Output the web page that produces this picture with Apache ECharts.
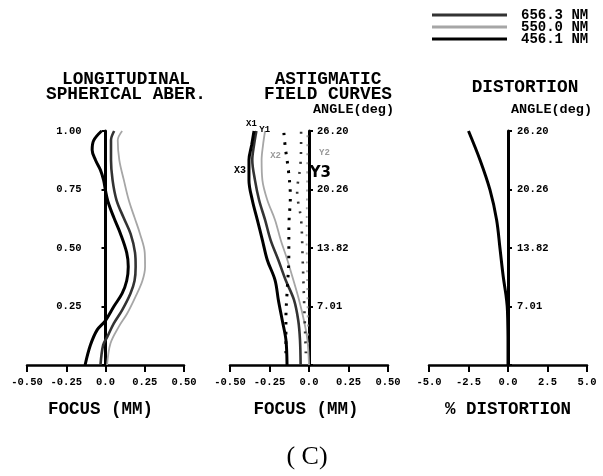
<!DOCTYPE html>
<html>
<head>
<meta charset="utf-8">
<script src="https://cdn.jsdelivr.net/npm/echarts@6/dist/echarts.min.js"></script>
<style>
  html, body { margin: 0; padding: 0; background: #fff; }
  #chart { width: 603px; height: 476px; }
</style>
</head>
<body>
<div id="chart"></div>
<script>
// ---- tick labels ----
const focusTicks = ['-0.50', '-0.25', '0.0', '0.25', '0.50'];
const distTicks = ['-5.0', '-2.5', '0.0', '2.5', '5.0'];
const pupilTicks = ['', '0.25', '0.50', '0.75', '1.00'];
const angleTicks = ['', '7.01', '13.82', '20.26', '26.20'];

// ---- wavelengths ----
const waves = ['656.3 NM', '550.0 NM', '456.1 NM'];

// ---- longitudinal spherical aberration: [focus mm, pupil fraction] ----
const lsa656 = [[-0.032,0],[-0.015,0.085],[0.011,0.12],[0.053,0.178],[0.106,0.235],[0.159,0.306],[0.185,0.36],[0.192,0.42],[0.188,0.48],[0.16,0.56],[0.115,0.63],[0.07,0.705],[0.045,0.79],[0.035,0.876],[0.035,0.96],[0.055,1.0]];
const lsa550 = [[0.01,0],[0.032,0.093],[0.085,0.164],[0.138,0.22],[0.19,0.29],[0.235,0.36],[0.252,0.42],[0.25,0.48],[0.22,0.56],[0.185,0.63],[0.148,0.705],[0.117,0.79],[0.088,0.876],[0.078,0.96],[0.106,1.0]];
const lsa456 = [[-0.13,0],[-0.096,0.085],[-0.053,0.15],[0,0.19],[0.053,0.25],[0.106,0.306],[0.135,0.36],[0.145,0.42],[0.135,0.48],[0.096,0.56],[0.053,0.63],[0.015,0.70],[0,0.745],[-0.012,0.79],[-0.032,0.833],[-0.064,0.876],[-0.085,0.919],[-0.075,0.96],[-0.025,1.0]];

// ---- astigmatic field curves: [focus mm, field fraction] ----
// sagittal (X)
const sag656 = [[-0.053,0],[-0.057,0.107],[-0.068,0.19],[-0.095,0.278],[-0.148,0.363],[-0.194,0.449],[-0.243,0.534],[-0.278,0.62],[-0.316,0.705],[-0.342,0.79],[-0.359,0.876],[-0.348,0.94],[-0.333,1.0]];
const sag550 = [[0,0],[-0.01,0.107],[-0.032,0.19],[-0.063,0.278],[-0.099,0.363],[-0.137,0.449],[-0.179,0.534],[-0.215,0.62],[-0.264,0.705],[-0.295,0.79],[-0.3,0.876],[-0.291,0.94],[-0.278,1.0]];
const sag456 = [[-0.139,0],[-0.146,0.107],[-0.169,0.19],[-0.194,0.278],[-0.215,0.363],[-0.264,0.449],[-0.295,0.534],[-0.327,0.62],[-0.359,0.705],[-0.38,0.79],[-0.38,0.876],[-0.363,0.94],[-0.348,1.0]];
// tangential (Y)
const tan656 = [[-0.02,0.05],[-0.03,0.25],[-0.04,0.45],[-0.05,0.62],[-0.075,0.74],[-0.055,0.85],[-0.05,0.95],[-0.05,1.0]];
const tan550 = [[-0.005,0.05],[-0.01,0.3],[-0.015,0.55],[-0.012,0.8],[-0.01,1.0]];
const tan456 = [[-0.146,0.05],[-0.146,0.2],[-0.138,0.32],[-0.128,0.45],[-0.127,0.6],[-0.118,0.72],[-0.13,0.83],[-0.15,0.93],[-0.16,1.0]];

// ---- distortion: [% distortion, field fraction] ----
const distortion = [[0,0],[0,0.1],[-0.02,0.2],[-0.05,0.25],[-0.13,0.3],[-0.3,0.377],[-0.51,0.5],[-0.72,0.62],[-1.14,0.748],[-1.77,0.876],[-2.5,1.0]];

const MONO = '"Liberation Mono", "Courier New", monospace';
const colors = { '656.3 NM': '#333333', '550.0 NM': '#a6a6a6', '456.1 NM': '#000000' };
const widths = { '656.3 NM': 2.6, '550.0 NM': 1.8, '456.1 NM': 3 };

const panels = [
  { left: 27, width: 157, min: -0.5, max: 0.5, interval: 0.25, ticks: focusTicks, yTicks: pupilTicks, pos: 'left', margin: 24, xName: 'FOCUS (MM)', namePadX: 10, yName: '' },
  { left: 230, width: 158, min: -0.5, max: 0.5, interval: 0.25, ticks: focusTicks, yTicks: angleTicks, pos: 'right', margin: 8, xName: 'FOCUS (MM)', namePadX: 6, yName: 'ANGLE(deg)', namePad: 4 },
  { left: 429, width: 158, min: -5, max: 5, interval: 2.5, ticks: distTicks, yTicks: angleTicks, pos: 'right', margin: 9, xName: '% DISTORTION', namePadX: 0, yName: 'ANGLE(deg)', namePad: 3 }
];
const TOP = 131, HEIGHT = 234;

const grid = panels.map(p => ({ left: p.left, top: TOP, width: p.width, height: HEIGHT }));

const xAxis = panels.map((p, i) => ({
  gridIndex: i, type: 'value', min: p.min, max: p.max, interval: p.interval,
  axisLine: { onZero: false, lineStyle: { color: '#000', width: 2.5 } },
  axisTick: { length: 7, lineStyle: { color: '#000', width: 2 } },
  axisLabel: {
    margin: 12, color: '#000', fontFamily: MONO, fontWeight: 'bold', fontSize: 10.5,
    formatter: v => p.ticks[Math.round((v - p.min) / p.interval)]
  },
  splitLine: { show: false },
  name: p.xName, nameLocation: 'middle', nameGap: 36, nameMoveOverlap: false,
  nameTextStyle: { color: '#000', fontFamily: MONO, fontWeight: 'bold', fontSize: 17.5, padding: [0, p.namePadX, 0, 0] }
}));

const yAxis = panels.map((p, i) => ({
  gridIndex: i, type: 'value', min: 0, max: 1, interval: 0.25,
  position: p.pos, offset: -p.width / 2,
  axisLine: { onZero: false, lineStyle: { color: '#000', width: 3 } },
  axisTick: { length: 4, lineStyle: { color: '#000', width: 2 } },
  axisLabel: {
    margin: p.margin, color: '#000', fontFamily: MONO, fontWeight: 'bold', fontSize: 10.5,
    formatter: v => p.yTicks[Math.round(v / 0.25)]
  },
  splitLine: { show: false },
  name: p.yName, nameLocation: 'end', nameGap: 14,
  nameTextStyle: { color: '#000', fontFamily: MONO, fontWeight: 'bold', fontSize: 13.5, align: 'left', padding: [0, 0, 0, p.namePad || 0] }
}));

function curve(name, data, idx, dash, marks) {
  const s = {
    name: name, type: 'line', xAxisIndex: idx, yAxisIndex: idx,
    data: data, symbol: 'none', smooth: 0.35, silent: true,
    lineStyle: { color: colors[name], width: widths[name], type: dash || 'solid' },
    itemStyle: { color: colors[name] }
  };
  if (marks) {
    s.markPoint = {
      symbol: 'circle', symbolSize: 1, silent: true,
      itemStyle: { color: 'rgba(0,0,0,0)' },
      data: marks
    };
  }
  return s;
}

function tag(text, point, offset, color, size, family) {
  return {
    coord: point, value: text,
    label: {
      show: true, position: 'inside', offset: offset, formatter: text,
      color: color, fontSize: size, fontFamily: family || MONO, fontWeight: 'bold'
    }
  };
}

const series = [
  // longitudinal spherical aberration
  curve('550.0 NM', lsa550, 0),
  curve('656.3 NM', lsa656, 0),
  curve('456.1 NM', lsa456, 0),
  // sagittal field curves
  curve('550.0 NM', sag550, 1, 'solid', [tag('X2', sag550[10], [14, -4], '#9a9a9a', 9)]),
  curve('656.3 NM', sag656, 1, 'solid', [tag('X1', sag656[sag656.length - 1], [-5, -7], '#000', 9)]),
  curve('456.1 NM', sag456, 1, 'solid', [tag('X3', sag456[9], [-9, -10], '#000', 10)]),
  // tangential field curves
  curve('550.0 NM', tan550, 1, [2, 7], [tag('Y2', tan550[tan550.length - 1], [17, 22], '#9a9a9a', 9)]),
  curve('656.3 NM', tan656, 1, [2, 8], [tag('Y3', tan656[5], [20, 7], '#000', 15, '"DejaVu Sans", sans-serif')]),
  curve('456.1 NM', tan456, 1, [2.5, 7], [tag('Y1', tan456[tan456.length - 1], [-19, -1], '#000', 9)]),
  // distortion
  curve('456.1 NM', distortion, 2)
];

const chart = echarts.init(document.getElementById('chart'), null, { renderer: 'canvas' });
chart.setOption({
  backgroundColor: '#fff',
  animation: false,
  title: [
    { text: 'LONGITUDINAL\nSPHERICAL ABER.', left: 121, top: 67, textAlign: 'center',
      textStyle: { fontFamily: MONO, fontWeight: 'bold', fontSize: 17.8, lineHeight: 15, color: '#000' } },
    { text: 'ASTIGMATIC\nFIELD CURVES', left: 323, top: 67, textAlign: 'center',
      textStyle: { fontFamily: MONO, fontWeight: 'bold', fontSize: 17.8, lineHeight: 15, color: '#000' } },
    { text: 'DISTORTION', left: 520, top: 75, textAlign: 'center',
      textStyle: { fontFamily: MONO, fontWeight: 'bold', fontSize: 17.8, lineHeight: 15, color: '#000' } },
    { text: '( C)', left: 302, top: 437, textAlign: 'center',
      textStyle: { fontFamily: '"Liberation Serif", serif', fontWeight: 'normal', fontSize: 26, lineHeight: 30, color: '#000' } }
  ],
  legend: {
    orient: 'vertical', left: 432, top: 8, padding: 0,
    itemWidth: 75, itemHeight: 3, itemGap: -2,
    data: waves.map(w => ({ name: w, icon: 'rect' })),
    selectedMode: false,
    textStyle: { fontFamily: MONO, fontWeight: 'bold', fontSize: 14, color: '#000', padding: [0, 0, 0, 9] }
  },
  grid: grid,
  xAxis: xAxis,
  yAxis: yAxis,
  series: series
});
</script>
</body>
</html>
